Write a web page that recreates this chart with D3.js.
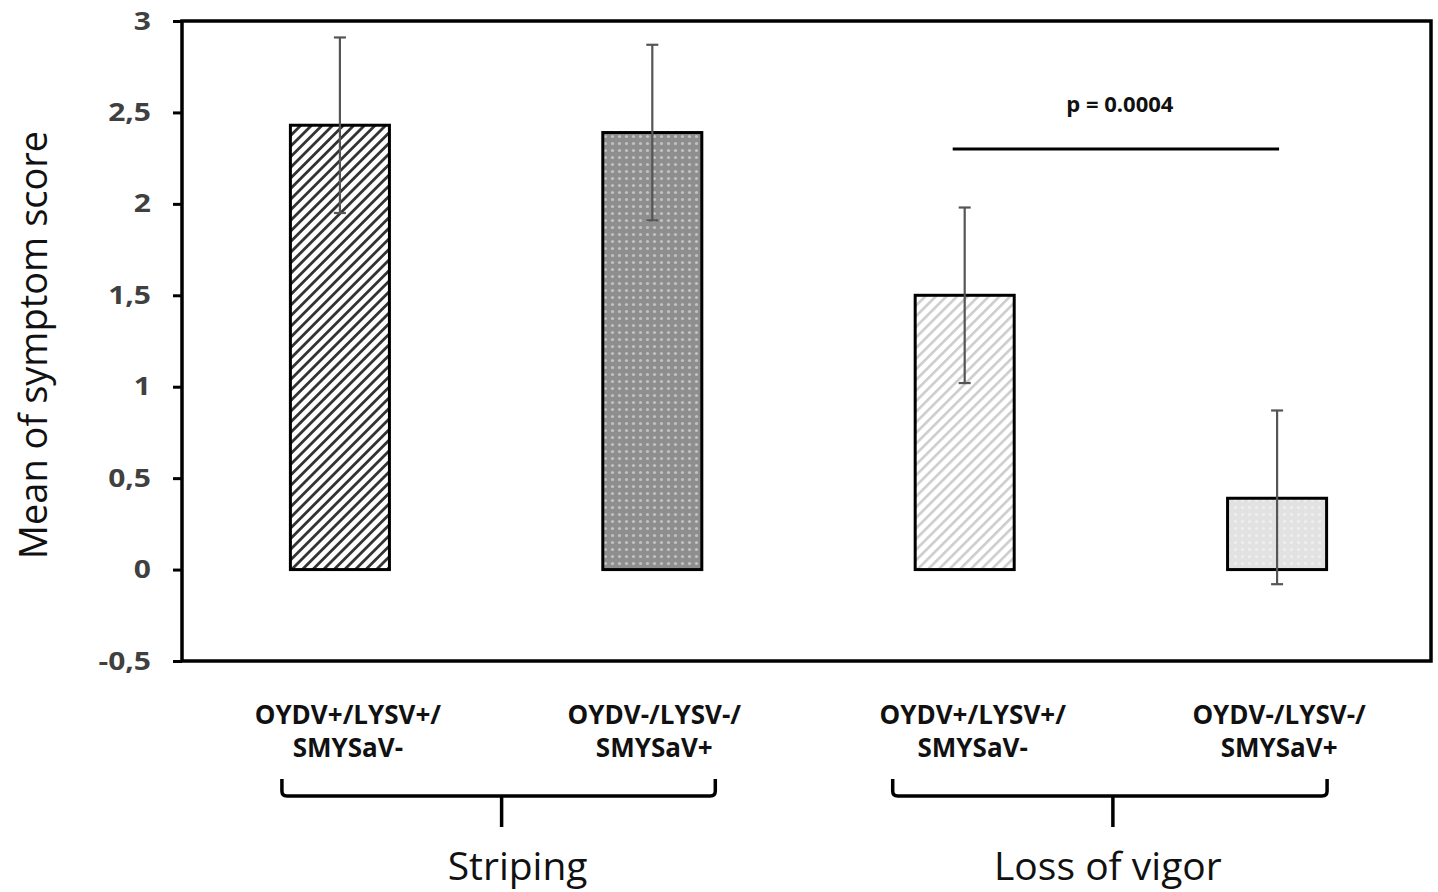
<!DOCTYPE html>
<html>
<head>
<meta charset="utf-8">
<script src="https://cdn.jsdelivr.net/npm/d3@7"></script>
<style>
  body { margin: 0; background: #fff; }
  svg { display: block; }
</style>
</head>
<body>
<svg id="chart"></svg>
<script>
// --- data ---
const categories = ['a', 'b', 'c', 'd'];
const labelLine1 = ['OYDV+/LYSV+/', 'OYDV-/LYSV-/', 'OYDV+/LYSV+/', 'OYDV-/LYSV-/'];
const labelLine2 = ['SMYSaV-', 'SMYSaV+', 'SMYSaV-', 'SMYSaV+'];
const means = [2.43, 2.39, 1.5, 0.39];
const errLow = [1.95, 1.91, 1.02, -0.08];
const errHigh = [2.91, 2.87, 1.98, 0.87];
const patterns = ['hatchDark', 'dotsDark', 'hatchLight', 'dotsLight'];
const groups = ['Striping', 'Loss of vigor'];
const groupMembers = [['a', 'b'], ['c', 'd']];
const yTicks = [-0.5, 0, 0.5, 1, 1.5, 2, 2.5, 3];
const pText = 'p = 0.0004';
const pPair = ['c', 'd'];
const pLevel = 2.3;

const width = 1438, height = 892;
const margin = {left: 182, right: 7, top: 21, bottom: 231};
const font = '"Open Sans", "Noto Sans", sans-serif';

const svg = d3.select('#chart').attr('width', width).attr('height', height);

// fill patterns
const defs = svg.append('defs');
function hatch(id, bg, fg, sw) {
  const p = defs.append('pattern').attr('id', id)
    .attr('patternUnits', 'userSpaceOnUse').attr('width', 7.5).attr('height', 7.5)
    .attr('patternTransform', 'rotate(45)');
  p.append('rect').attr('width', 7.5).attr('height', 7.5).attr('fill', bg);
  p.append('rect').attr('width', sw).attr('height', 7.5).attr('fill', fg);
}
function dots(id, bg, fg) {
  const p = defs.append('pattern').attr('id', id)
    .attr('patternUnits', 'userSpaceOnUse').attr('width', 7).attr('height', 7);
  p.append('rect').attr('width', 7).attr('height', 7).attr('fill', bg);
  p.append('circle').attr('cx', 3.5).attr('cy', 3.5).attr('r', 1.6).attr('fill', fg);
}
hatch('hatchDark', '#fff', '#333', 2.8);
dots('dotsDark', '#8e8e8e', '#c2c2c2');
hatch('hatchLight', '#fff', '#cdcdcd', 2.6);
dots('dotsLight', '#e2e2e2', '#efefef');

// scales
const x = d3.scaleBand()
  .domain(categories)
  .range([margin.left, margin.left + 1253])
  .paddingInner(0.683)
  .paddingOuter(0.347);
const y = d3.scaleLinear()
  .domain([-0.5, 3])
  .range([height - margin.bottom, margin.top]);

// y axis
const yAxis = svg.append('g')
  .attr('transform', `translate(${margin.left},0)`)
  .call(d3.axisLeft(y).tickValues(yTicks).tickSize(9).tickFormat(d => String(d).replace('.', ',')));
yAxis.select('.domain').remove();
yAxis.selectAll('line').attr('stroke', '#000').attr('stroke-width', 3);
yAxis.selectAll('text')
  .attr('font-family', font).attr('font-size', 25).attr('font-weight', 'bold')
  .attr('fill', '#404040')
  .attr('transform', 'scale(1.2,1)')
  .attr('x', -31 / 1.2);

// bars
svg.append('g').selectAll('rect')
  .data(categories)
  .join('rect')
  .attr('x', d => x(d))
  .attr('y', (d, i) => y(means[i]))
  .attr('width', x.bandwidth())
  .attr('height', (d, i) => y(0) - y(means[i]))
  .attr('fill', (d, i) => `url(#${patterns[i]})`)
  .attr('stroke', '#000')
  .attr('stroke-width', 3);

// error bars
const eb = svg.append('g').attr('stroke', '#555').attr('stroke-width', 2.2);
categories.forEach((c, i) => {
  const cx = x(c) + x.bandwidth() / 2;
  eb.append('line').attr('x1', cx).attr('x2', cx).attr('y1', y(errLow[i])).attr('y2', y(errHigh[i]));
  eb.append('line').attr('x1', cx - 6).attr('x2', cx + 6).attr('y1', y(errLow[i])).attr('y2', y(errLow[i]));
  eb.append('line').attr('x1', cx - 6).attr('x2', cx + 6).attr('y1', y(errHigh[i])).attr('y2', y(errHigh[i]));
});

// frame
svg.append('rect')
  .attr('x', margin.left).attr('y', margin.top)
  .attr('width', width - margin.right - margin.left)
  .attr('height', y(-0.5) - margin.top)
  .attr('fill', 'none').attr('stroke', '#000').attr('stroke-width', 3.5);

// significance line
const px1 = x(pPair[0]) + x.bandwidth() / 2 - 12;
const px2 = x(pPair[1]) + x.bandwidth() / 2 + 2;
svg.append('line')
  .attr('x1', px1).attr('x2', px2).attr('y1', y(pLevel)).attr('y2', y(pLevel))
  .attr('stroke', '#000').attr('stroke-width', 3);
svg.append('text')
  .attr('x', (px1 + px2) / 2 + 4).attr('y', y(pLevel) - 37)
  .attr('text-anchor', 'middle')
  .attr('font-family', font).attr('font-size', 22).attr('font-weight', 'bold')
  .attr('fill', '#111')
  .text(pText);

// category labels
const labs = svg.append('g')
  .attr('font-family', font).attr('font-size', 26).attr('font-weight', 'bold')
  .attr('fill', '#111').attr('text-anchor', 'middle');
categories.forEach((c, i) => {
  const cx = x(c) + x.bandwidth() / 2;
  const shift = i % 2 === 0 ? 8 : 2;
  labs.append('text').attr('x', cx + shift).attr('y', 724).text(labelLine1[i]);
  labs.append('text').attr('x', cx + shift).attr('y', 757).text(labelLine2[i]);
});

// group brackets
const bracketPad = [[58, 63], [72, 50]];
const titleShift = [16, -5];
groups.forEach((g, gi) => {
  const a = x(groupMembers[gi][0]) + x.bandwidth() / 2 - bracketPad[gi][0];
  const b = x(groupMembers[gi][1]) + x.bandwidth() / 2 + bracketPad[gi][1];
  const mid = (a + b) / 2 + 3;
  const top = 779, bar = 796, r = 5;
  svg.append('path')
    .attr('d', `M${a},${top} V${bar - r} Q${a},${bar} ${a + r},${bar} H${b - r} Q${b},${bar} ${b},${bar - r} V${top}`)
    .attr('fill', 'none').attr('stroke', '#000').attr('stroke-width', 3.5);
  svg.append('line')
    .attr('x1', mid).attr('x2', mid).attr('y1', bar).attr('y2', 827)
    .attr('stroke', '#000').attr('stroke-width', 3.5);
  svg.append('text')
    .attr('x', mid + titleShift[gi]).attr('y', 880)
    .attr('text-anchor', 'middle')
    .attr('font-family', font).attr('font-size', 39)
    .attr('fill', '#111')
    .text(g);
});

// y title
svg.append('text')
  .attr('transform', `translate(47,${(margin.top + y(-0.5)) / 2 + 4}) rotate(-90)`)
  .attr('text-anchor', 'middle')
  .attr('font-family', font).attr('font-size', 38)
  .attr('fill', '#111')
  .text('Mean of symptom score');
</script>
</body>
</html>
